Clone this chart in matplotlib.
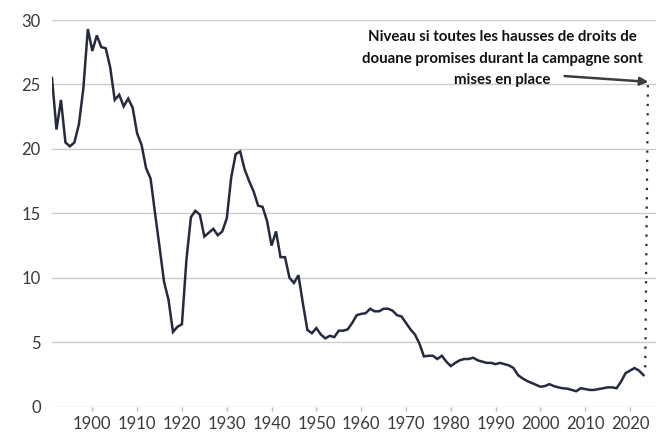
import matplotlib
matplotlib.use('Agg')
import matplotlib.pyplot as plt

# Taux moyen des droits de douane (%)
years = list(range(1891, 2024))
rate = [
    25.5, 21.5, 23.8, 20.5, 20.2, 20.5, 21.9, 24.7, 29.3,          # 1891-1899
    27.6, 28.8, 27.9, 27.8, 26.3, 23.8, 24.2, 23.3, 23.9, 23.2,    # 1900-1909
    21.2, 20.3, 18.5, 17.7, 15.0, 12.4, 9.7, 8.3, 5.8, 6.2,        # 1910-1919
    6.4, 11.4, 14.7, 15.2, 14.9, 13.2, 13.5, 13.8, 13.3, 13.6,     # 1920-1929
    14.6, 17.8, 19.6, 19.8, 18.4, 17.5, 16.7, 15.6, 15.5, 14.4,    # 1930-1939
    12.5, 13.6, 11.6, 11.6, 10.0, 9.6, 10.2, 8.0, 5.95, 5.7,       # 1940-1949
    6.1, 5.6, 5.3, 5.5, 5.4, 5.9, 5.9, 6.0, 6.5, 7.1,              # 1950-1959
    7.2, 7.25, 7.6, 7.4, 7.4, 7.6, 7.6, 7.45, 7.1, 7.0,            # 1960-1969
    6.5, 6.0, 5.6, 4.9, 3.9, 3.95, 3.95, 3.7, 3.95, 3.5,           # 1970-1979
    3.15, 3.4, 3.6, 3.7, 3.7, 3.8, 3.6, 3.5, 3.4, 3.4,             # 1980-1989
    3.3, 3.4, 3.3, 3.2, 3.0, 2.45, 2.2, 2.0, 1.85, 1.7,            # 1990-1999
    1.55, 1.6, 1.75, 1.6, 1.5, 1.43, 1.4, 1.3, 1.2, 1.43,          # 2000-2009
    1.37, 1.3, 1.3, 1.37, 1.43, 1.5, 1.5, 1.43, 1.95, 2.6,         # 2010-2019
    2.8, 3.0, 2.8, 2.45,                                           # 2020-2023
]
target_year = 2024
target_level = 25.1

note = ("Niveau si toutes les hausses de droits de\n"
        "douane promises durant la campagne sont\n"
        "mises en place")

W, H = 656, 432
fig = plt.figure(figsize=(W / 100, H / 100), dpi=100)
ax = fig.add_axes([52 / W, 25.3 / H, 604 / W, 386.7 / H])

ax.plot(years, rate, color='#262a3f', lw=1.8, solid_joinstyle='miter', zorder=3)
ax.plot([years[-1] + 0.4, target_year], [rate[-1] + 0.6, target_level],
        color='#262a3f', lw=1.6, linestyle=(0, (1, 3.2)), zorder=3)

ax.annotate('', xy=(target_year + 0.1, target_level + 0.1),
            xytext=(2005.4, 25.65),
            arrowprops=dict(arrowstyle='-|>', color='#3d3d3d', lw=1.8,
                            mutation_scale=12, shrinkA=0, shrinkB=0))
ax.text(1991.5, 27.0, note, ha='center', va='center', fontsize=10.8,
        fontweight='bold', family='Lato', color='#111111', linespacing=1.7)

ax.set_xlim(1891, 2025.8)
ax.set_ylim(0, 30)
ax.set_yticks(range(0, 31, 5))
ax.set_xticks(range(1900, 2021, 10))
ax.grid(axis='y', color='#cccccc', lw=1)
ax.set_axisbelow(True)
for s in ax.spines.values():
    s.set_visible(False)
ax.tick_params(axis='y', length=0, pad=8, labelsize=12, labelcolor='#3a3a3a')
ax.tick_params(axis='x', length=3, width=1, color='#bbbbbb', pad=4,
               labelsize=12, labelcolor='#3a3a3a')
for lab in ax.get_xticklabels() + ax.get_yticklabels():
    lab.set_family('Lato')
    lab.set_fontweight('normal')

fig.savefig('out.png', dpi=100)
